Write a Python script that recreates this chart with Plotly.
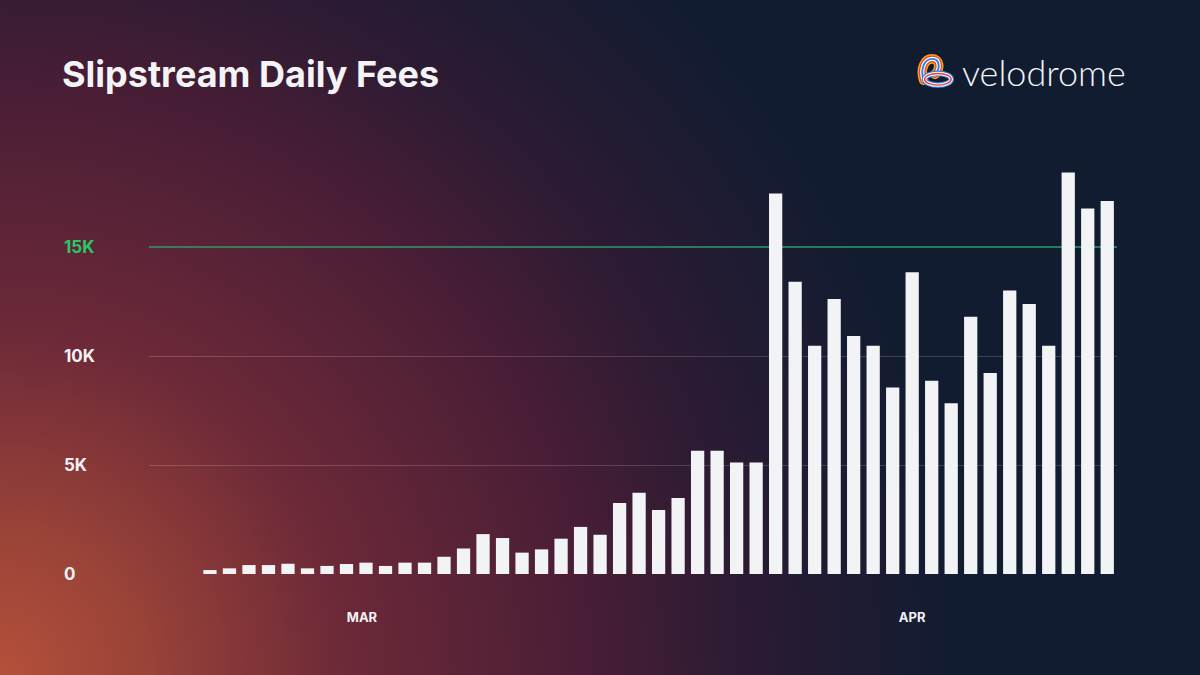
import base64

import pandas as pd
import plotly.graph_objects as go

# daily fees in USD
fees = [180, 260, 410, 410, 470, 260, 370, 460, 520, 370, 520, 520,
        790, 1170, 1830, 1650, 980, 1130, 1620, 2160, 1800, 3260, 3730,
        2940, 3490, 5650, 5650, 5120, 5120, 17450, 13410, 10470, 12620,
        10920, 10470, 8560, 13840, 8870, 7830, 11800, 9220, 13010, 12390,
        10470, 18420, 16770, 17110]
days = pd.date_range("2024-02-22", periods=len(fees), freq="D")

month_ticks = ["2024-02-29 19:00", "2024-03-29 00:00"]
month_labels = ["MAR", "APR"]
y_ticks = [0, 5000, 10000, 15000]
y_labels = ["0", "5K", "10K", "15K"]
highlight = 15000

W, H = 1200, 675
L, R, T, B = 149, 83, 138, 101
PW, PH = W - L - R, H - T - B


def px_x(x):
    return (x - L) / PW


def px_y(y):
    return (H - B - y) / PH


def svg_uri(svg):
    return "data:image/svg+xml;base64," + base64.b64encode(svg.encode()).decode()


bg_svg = f"""<svg xmlns="http://www.w3.org/2000/svg" width="{W}" height="{H}" viewBox="0 0 {W} {H}">
<defs><radialGradient id="g" gradientUnits="userSpaceOnUse" cx="0" cy="{H}" r="960">
<stop offset="0" stop-color="#b4503a"/>
<stop offset="0.15" stop-color="#9a4338"/>
<stop offset="0.36" stop-color="#6c2938"/>
<stop offset="0.60" stop-color="#4b1e36"/>
<stop offset="0.76" stop-color="#2d1b33"/>
<stop offset="1" stop-color="#111c31"/>
</radialGradient></defs>
<rect width="{W}" height="{H}" fill="url(#g)"/></svg>"""

loop = "M7 27 C 3 15, 8 5, 16 5 C 24 5, 25 15, 19 21"
logo_svg = f"""<svg xmlns="http://www.w3.org/2000/svg" width="40" height="36" viewBox="0 0 40 36">
<path d="{loop}" fill="none" stroke="#f7a21b" stroke-width="10" stroke-linecap="round"/>
<path d="{loop}" fill="none" stroke="#e8402c" stroke-width="7" stroke-linecap="round"/>
<path d="{loop}" fill="none" stroke="#ffffff" stroke-width="4.5" stroke-linecap="round"/>
<path d="{loop}" fill="none" stroke="#2f7fe8" stroke-width="2" stroke-linecap="round"/>
<ellipse cx="22" cy="26" rx="14" ry="6" fill="none" stroke="#2f7fe8" stroke-width="6"/>
<ellipse cx="22" cy="26" rx="14" ry="6" fill="none" stroke="#ffffff" stroke-width="3.5"/>
<ellipse cx="22" cy="26" rx="14" ry="6" fill="none" stroke="#e8402c" stroke-width="1.5"/>
</svg>"""

fig = go.Figure()
fig.add_trace(go.Bar(
    x=days,
    y=fees,
    marker=dict(color="#f2f3f5", line=dict(width=0)),
    showlegend=False,
))

fig.add_shape(type="line", xref="paper", x0=0, x1=1, yref="y", y0=highlight, y1=highlight,
              line=dict(color="#2c9a68", width=1.5), layer="below")

annotations = []
for v, lab in zip(y_ticks, y_labels):
    annotations.append(dict(
        x=px_x(62), xref="paper", xanchor="left",
        y=v, yref="y", yanchor="middle",
        text=lab, showarrow=False,
        font=dict(family="Inter", size=17, weight=700,
                  color="#2bc765" if v == highlight else "#f2f2f4"),
    ))
annotations.append(dict(
    x=px_x(960), xref="paper", xanchor="left",
    y=px_y(72), yref="paper", yanchor="middle",
    text="velodrome", showarrow=False,
    font=dict(family="Lato", size=36, weight=300, color="#f4f4f6"),
))

fig.update_layout(
    width=W, height=H, autosize=False,
    margin=dict(l=L, r=R, t=T, b=B),
    paper_bgcolor="#2a1b33",
    plot_bgcolor="rgba(0,0,0,0)",
    bargap=0.32,
    title=dict(text="Slipstream Daily Fees", x=62 / W, xanchor="left", xref="container",
               y=1 - 74 / H, yanchor="middle", yref="container",
               font=dict(family="Inter", size=36, weight=700, color="#f4f4f6")),
    xaxis=dict(type="date", range=["2024-02-18 21:00", "2024-04-08 12:00"],
               tickvals=month_ticks, ticktext=month_labels, ticks="",
               showgrid=False, zeroline=False, showline=False,
               ticklabelstandoff=34,
               tickfont=dict(family="Inter", size=13, weight=700, color="#f2f2f4")),
    yaxis=dict(range=[0, 20000], tickvals=y_ticks[:-1], showticklabels=False,
               showgrid=True, gridcolor="rgba(255,255,255,0.17)", gridwidth=1,
               zeroline=False, showline=False),
    annotations=annotations,
    images=[
        dict(source=svg_uri(bg_svg), xref="paper", yref="paper",
             x=-L / PW, y=1 + T / PH, sizex=W / PW, sizey=H / PH,
             xanchor="left", yanchor="top", sizing="stretch", layer="below"),
        dict(source=svg_uri(logo_svg), xref="paper", yref="paper",
             x=px_x(917), y=px_y(54), sizex=38 / PW, sizey=35 / PH,
             xanchor="left", yanchor="top", sizing="stretch", layer="above"),
    ],
)

fig.write_html("out.html", config={"displayModeBar": False},
               post_script="document.body.style.margin='0';")
